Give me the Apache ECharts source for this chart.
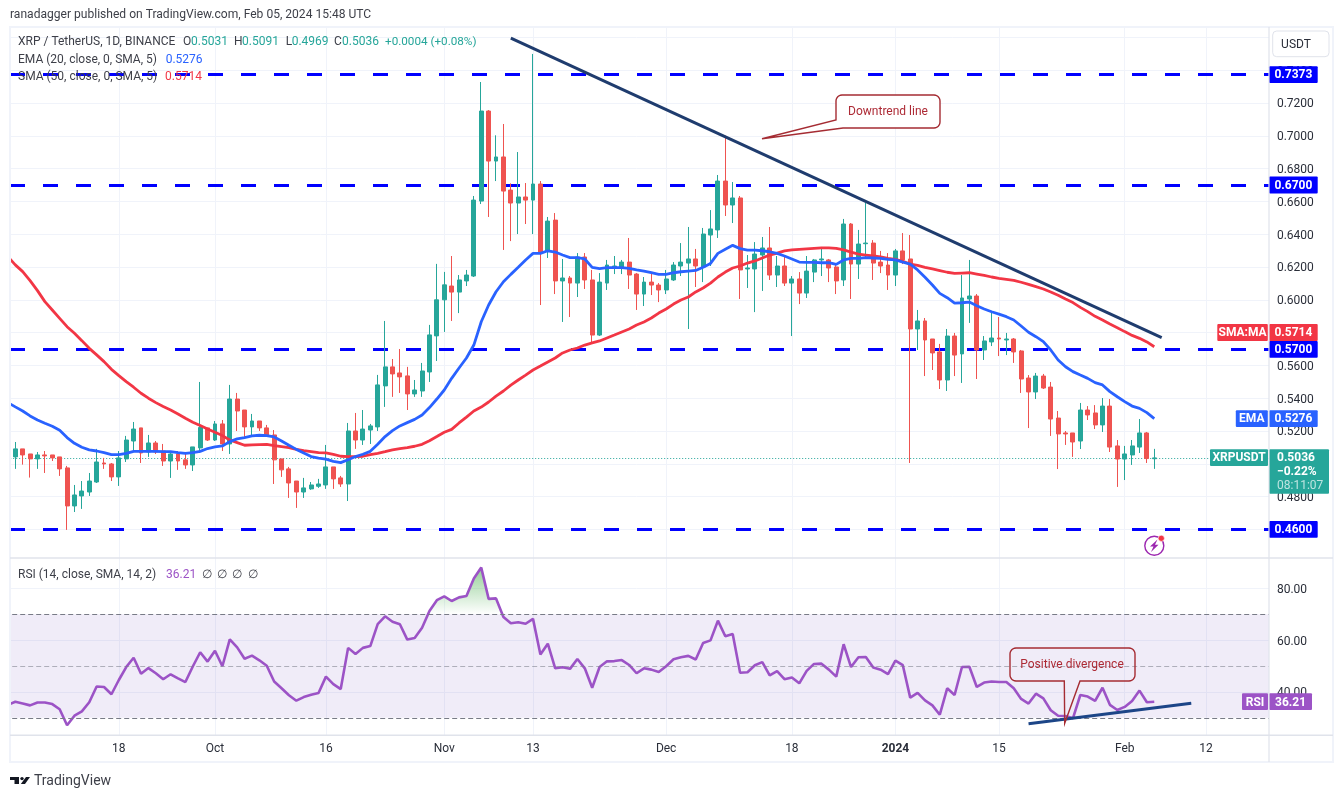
<!DOCTYPE html>
<html><head><meta charset="utf-8">
<style>html,body{margin:0;padding:0;background:#fff}#c{width:1343px;height:798px}</style>
<script src="https://cdn.jsdelivr.net/npm/echarts@6/dist/echarts.min.js"></script>
</head><body><div id="c"></div>
<script>
// Daily candles from 2023-09-04, each row is [open, high, low, close]
const ohlc = [
[.5042,.5133,.4969,.5091],[.5091,.5091,.4995,.5054],[.5060,.5060,.4916,.5030],[.5030,.5072,.4969,.5054],[.5054,.5078,.4944,.5048],
[.5054,.5054,.5017,.5036],[.5042,.5042,.4926,.4969],[.4975,.4987,.4597,.4743],[.4743,.4871,.4706,.4810],[.4804,.4895,.4725,.4834],
[.4828,.4944,.4804,.4895],[.4889,.5091,.4883,.5011],[.5005,.5036,.4969,.4999],[.4999,.5005,.4895,.4920],[.4920,.5078,.4865,.5036],
[.5030,.5170,.5011,.5145],[.5139,.5255,.5078,.5212],[.5219,.5219,.5005,.5066],[.5072,.5176,.5042,.5127],[.5127,.5139,.5060,.5072],
[.5078,.5121,.4987,.5017],[.5017,.5078,.4914,.5060],[.5060,.5078,.4963,.5017],[.5024,.5072,.4969,.4993],[.4993,.5103,.4956,.5103],
[.5097,.5499,.5066,.5221],[.5219,.5219,.5139,.5145],[.5145,.5261,.5139,.5243],[.5243,.5267,.5078,.5121],[.5121,.5481,.5060,.5395],
[.5395,.5432,.5200,.5322],[.5328,.5328,.5158,.5225],[.5225,.5304,.5170,.5261],[.5261,.5261,.5200,.5219],[.5219,.5237,.5164,.5170],
[.5176,.5206,.4877,.5024],[.5030,.5030,.4920,.4963],[.4969,.4981,.4792,.4883],[.4895,.4895,.4731,.4828],[.4828,.4914,.4792,.4853],
[.4847,.4889,.4841,.4871],[.4863,.4908,.4853,.4877],[.4871,.5115,.4847,.4981],[.4981,.4981,.4847,.4908],[.4914,.4926,.4859,.4877],
[.4877,.5249,.4773,.5200],[.5200,.5310,.5091,.5145],[.5145,.5328,.5115,.5212],[.5206,.5243,.5121,.5231],[.5225,.5542,.5200,.5481],
[.5475,.5871,.5347,.5591],[.5591,.5639,.5408,.5548],[.5554,.5700,.5432,.5530],[.5536,.5591,.5328,.5426],[.5426,.5511,.5408,.5450],
[.5444,.5615,.5408,.5566],[.5560,.5847,.5499,.5786],[.5780,.6219,.5627,.6000],[.6000,.6170,.5804,.6091],[.6084,.6267,.5871,.6047],
[.6047,.6151,.5919,.6121],[.6115,.6182,.6084,.6151],[.6145,.6633,.6139,.6608],[.6602,.7328,.6584,.7151],[.7151,.7157,.6505,.6846],
[.6846,.7003,.6724,.6871],[.6871,.7072,.6304,.6663],[.6669,.6710,.6358,.6590],[.6590,.6901,.6401,.6627],[.6627,.6712,.6462,.6608],
[.6608,.7499,.6401,.6706],[.6706,.6724,.5968,.6291],[.6297,.6505,.6255,.6480],[.6486,.6529,.6035,.6115],[.6115,.6249,.5865,.6133],
[.6133,.6145,.5895,.6102],[.6102,.6285,.6017,.6261],[.6261,.6285,.6066,.6121],[.6121,.6182,.5736,.5785],[.5785,.6163,.5779,.6108],
[.6102,.6243,.6060,.6212],[.6194,.6267,.6157,.6206],[.6200,.6243,.6157,.6230],[.6230,.6377,.6066,.6151],[.6157,.6163,.5938,.6035],
[.6035,.6139,.5962,.6108],[.6108,.6169,.6029,.6090],[.6090,.6102,.5986,.6060],[.6060,.6182,.6035,.6127],[.6121,.6230,.6115,.6212],
[.6206,.6346,.6145,.6230],[.6224,.6444,.5822,.6249],[.6249,.6310,.6078,.6206],[.6200,.6438,.6108,.6401],[.6395,.6547,.6206,.6432],
[.6426,.6761,.6377,.6724],[.6724,.7001,.6511,.6578],[.6578,.6718,.6468,.6621],[.6621,.6633,.6005,.6182],[.6188,.6273,.6072,.6194],
[.6188,.6352,.5925,.6279],[.6273,.6383,.6054,.6316],[.6316,.6444,.6121,.6151],[.6151,.6267,.6078,.6206],[.6206,.6261,.6084,.6102],
[.6102,.6145,.5779,.6127],[.6127,.6169,.5974,.6041],[.6041,.6267,.6011,.6175],[.6169,.6249,.6108,.6243],[.6243,.6322,.6145,.6249],
[.6243,.6249,.6108,.6194],[.6200,.6224,.6035,.6115],[.6121,.6493,.6084,.6462],[.6462,.6468,.6005,.6218],[.6218,.6426,.6127,.6340],
[.6342,.6590,.6255,.6346],[.6346,.6364,.6121,.6224],[.6230,.6298,.6163,.6206],[.6212,.6285,.6060,.6151],[.6151,.6310,.6084,.6298],
[.6298,.6407,.6218,.6243],[.6249,.6395,.5005,.5822],[.5822,.5938,.5694,.5871],[.5871,.5889,.5535,.5755],[.5761,.5761,.5572,.5676],
[.5682,.5731,.5456,.5511],[.5511,.5822,.5444,.5779],[.5779,.5798,.5535,.5663],[.5670,.6151,.5493,.6011],[.6005,.6243,.5859,.6023],
[.6023,.6035,.5517,.5694],[.5694,.5779,.5633,.5749],[.5743,.5930,.5718,.5767],[.5767,.5895,.5657,.5761],[.5755,.5798,.5663,.5761],
[.5761,.5767,.5615,.5682],[.5688,.5694,.5432,.5517],[.5523,.5541,.5218,.5438],[.5438,.5554,.5395,.5535],[.5535,.5548,.5456,.5462],
[.5468,.5499,.5170,.5273],[.5279,.5322,.4968,.5182],[.5188,.5200,.5115,.5182],[.5188,.5188,.5042,.5133],[.5139,.5371,.5090,.5328],
[.5328,.5352,.5267,.5298],[.5310,.5358,.5212,.5237],[.5237,.5401,.5194,.5352],[.5352,.5395,.5072,.5102],[.5109,.5145,.4859,.5029],
[.5029,.5109,.4901,.5060],[.5054,.5145,.4993,.5109],[.5102,.5273,.5066,.5188],[.5188,.5194,.5005,.5032],[.5031,.5091,.4969,.5036]
];
// Lines start one day before the first candle, as in the picture, where they enter from the left edge
const ema20 = [.5373,.5347,.5322,.5292,.5267,.5247,.5229,.5204,.5160,.5125,.5101,.5085,.5078,.5068,.5056,.5056,.5064,.5076,.5076,.5076,.5076,.5074,.5074,.5068,.5064,.5068,.5076,.5093,.5103,.5109,.5135,.5152,.5160,.5170,.5174,.5172,.5164,.5139,.5113,.5088,.5066,.5044,.5034,.5028,.5015,.5007,.5025,.5044,.5058,.5076,.5119,.5166,.5202,.5231,.5251,.5271,.5298,.5343,.5395,.5450,.5521,.5584,.5645,.5724,.5866,.5968,.6049,.6110,.6155,.6198,.6243,.6283,.6283,.6299,.6291,.6273,.6257,.6257,.6249,.6198,.6190,.6196,.6196,.6196,.6192,.6182,.6175,.6165,.6155,.6155,.6165,.6171,.6175,.6179,.6198,.6222,.6283,.6308,.6332,.6312,.6303,.6303,.6299,.6293,.6283,.6267,.6249,.6230,.6228,.6228,.6226,.6226,.6216,.6243,.6253,.6253,.6257,.6255,.6253,.6247,.6243,.6230,.6218,.6182,.6137,.6090,.6039,.6013,.5980,.5982,.5986,.5964,.5944,.5927,.5913,.5897,.5877,.5840,.5802,.5775,.5745,.5694,.5633,.5592,.5562,.5541,.5521,.5495,.5481,.5440,.5409,.5379,.5352,.5338,.5312,.5276];
const sma50 = [.6263,.6213,.6172,.6117,.6056,.5989,.5938,.5887,.5836,.5796,.5751,.5704,.5664,.5623,.5576,.5538,.5501,.5467,.5430,.5400,.5373,.5349,.5328,.5304,.5278,.5253,.5233,.5212,.5192,.5172,.5145,.5129,.5113,.5115,.5117,.5119,.5111,.5105,.5099,.5088,.5080,.5074,.5068,.5066,.5058,.5046,.5044,.5044,.5046,.5056,.5064,.5074,.5085,.5093,.5099,.5107,.5119,.5141,.5166,.5192,.5210,.5249,.5285,.5322,.5346,.5377,.5413,.5444,.5480,.5511,.5541,.5572,.5596,.5621,.5645,.5676,.5694,.5706,.5724,.5737,.5749,.5767,.5785,.5804,.5822,.5846,.5865,.5889,.5919,.5944,.5974,.5999,.6017,.6048,.6072,.6102,.6139,.6169,.6194,.6206,.6224,.6237,.6255,.6273,.6285,.6298,.6304,.6307,.6310,.6313,.6316,.6316,.6313,.6304,.6291,.6279,.6273,.6267,.6261,.6253,.6247,.6235,.6218,.6210,.6198,.6188,.6178,.6168,.6161,.6163,.6165,.6157,.6149,.6139,.6131,.6125,.6119,.6107,.6094,.6080,.6066,.6048,.6028,.6005,.5983,.5954,.5928,.5899,.5877,.5852,.5830,.5806,.5783,.5765,.5743,.5714];
const rsi14 = [35.0,36.2,35.5,34.8,35.9,35.9,35.3,33.3,27.1,30.8,32.5,36.0,42.1,41.9,39.1,44.6,49.6,53.2,47.0,49.2,47.2,44.9,46.8,45.2,43.8,49.8,55.3,51.7,55.9,49.9,60.3,57.2,52.8,54.0,52.2,50.1,44.0,41.4,38.7,36.6,38.0,38.9,39.6,45.9,43.0,41.1,57.0,54.6,57.0,57.7,66.2,69.2,67.1,66.1,60.2,60.8,64.8,71.2,75.4,76.9,75.1,76.5,77.0,83.8,88.0,75.9,76.1,68.9,66.5,66.9,66.3,68.2,54.4,58.6,49.1,49.5,48.9,52.7,49.1,41.6,49.6,51.8,51.9,52.3,50.4,47.2,49.1,48.6,47.7,49.9,52.6,53.4,53.9,52.5,58.9,59.9,67.5,61.5,62.4,47.4,47.6,50.3,51.5,46.4,48.0,44.9,45.6,43.3,48.1,50.8,50.9,48.6,45.9,58.4,49.6,53.4,53.5,49.4,48.6,46.9,52.1,50.3,37.8,39.6,36.7,34.8,31.2,41.4,38.8,49.6,49.7,41.9,43.6,44.0,43.8,43.8,41.4,37.3,35.5,39.3,37.5,32.9,30.8,30.7,29.8,38.8,38.2,36.5,41.6,35.0,33.0,34.2,36.5,40.5,36.0,36.2];
const levels = [0.7373, 0.67, 0.57, 0.46];
const downtrend = [[68, .7596], [156, .5769]];   // [day index, price]
const rsiTrend = [[138, 27.7], [160, 35.6]];     // [day index, RSI]
const tickLabels = {15:'18', 28:'Oct', 43:'16', 59:'Nov', 71:'13', 89:'Dec', 106:'18', 120:'2024', 134:'15', 151:'Feb', 162:'12'};
const dayCount = 171;
const days = Array.from({length: dayCount}, (_, i) => String(i));

const UP = '#26a69a', DOWN = '#ef5350', EMA = '#2962ff', SMA = '#f23645', RSI = '#9c53c6', LEVEL = '#0000ff', NAVY = '#1f3c6e';
const GRIDC = '#f0f3fa', AXISC = '#e0e3eb', TXT = '#2a2e39';
const FONT = 'Roboto, sans-serif';
const W = 7.396, GL = 4.2, GW = W * dayCount;

const chart = echarts.init(document.getElementById('c'), null, {renderer: 'canvas'});
const candleData = [['-', '-', '-', '-']].concat(ohlc.map(r => [r[0], r[3], r[2], r[1]]));
const ovb = rsi14.map(v => Math.max(v, 70));
const tickRich = {a: {padding: [3, 0, 0, 0], fontFamily: FONT, fontSize: 12, color: TXT}};

chart.setOption({
  animation: false,
  backgroundColor: '#fff',
  grid: [
    {left: GL, width: GW, top: 27, height: 535.2, containLabel: false},
    {left: GL, width: GW, top: 558, height: 185.7, containLabel: false},
    {left: GL + W / 2, width: W * (dayCount - 1), top: 27, height: 708, containLabel: false}
  ],
  xAxis: [
    {type: 'category', gridIndex: 0, data: days, axisLine: {show: false}, axisTick: {show: false}, axisLabel: {show: false}, splitLine: {show: false}},
    {type: 'category', gridIndex: 1, data: days, axisLine: {show: false}, axisTick: {show: false}, axisLabel: {show: false}, splitLine: {show: false}},
    {type: 'category', gridIndex: 2, data: days, boundaryGap: false, axisLine: {show: false}, axisTick: {show: false},
      axisLabel: {margin: 8, fontFamily: FONT, fontSize: 12, color: TXT, hideOverlap: false,
        interval: (i) => tickLabels[i] !== undefined,
        formatter: (v) => tickLabels[v] === '2024' ? '{b|2024}' : (tickLabels[v] || ''),
        rich: {b: {fontWeight: 'bold', fontFamily: FONT, fontSize: 12, color: TXT}}},
      splitLine: {show: true, interval: (i) => tickLabels[i] !== undefined, lineStyle: {color: GRIDC, width: 1}}}
  ],
  yAxis: [
    {type: 'value', gridIndex: 0, position: 'right', min: 0.44, max: 0.76634, interval: 0.02, axisLine: {show: false}, axisTick: {show: false},
      axisLabel: {margin: 8, showMinLabel: false, showMaxLabel: false, rich: tickRich, formatter: v => `{a|${v.toFixed(4)}}`},
      splitLine: {show: true, showMinLine: false, showMaxLine: false, lineStyle: {color: GRIDC, width: 1}}},
    {type: 'value', gridIndex: 1, position: 'right', min: 20, max: 91.7, interval: 20, axisLine: {show: false}, axisTick: {show: false},
      axisLabel: {margin: 8, showMinLabel: false, showMaxLabel: false, rich: tickRich, formatter: v => `{a|${v.toFixed(2)}}`},
      splitLine: {show: true, showMinLine: false, showMaxLine: false, lineStyle: {color: GRIDC, width: 1}}},
    {type: 'value', gridIndex: 2, show: false, min: 0, max: 1}
  ],
  series: [
    {type: 'line', xAxisIndex: 2, yAxisIndex: 2, data: [], silent: true},
    {type: 'candlestick', xAxisIndex: 0, yAxisIndex: 0, data: candleData, barWidth: 4.4, z: 3,
      itemStyle: {color: UP, color0: DOWN, borderColor: UP, borderColor0: DOWN, borderWidth: 1},
      markLine: {silent: true, symbol: 'none', precision: 4, label: {show: false}, z: 2, animation: false,
        data: levels.map(v => ({yAxis: v, lineStyle: {color: LEVEL, width: 3, type: [15, 18], dashOffset: 27.2}}))
          .concat([{yAxis: 0.5036, lineStyle: {color: UP, width: 1, type: [1, 2]}}])}},
    {type: 'line', xAxisIndex: 0, yAxisIndex: 0, data: sma50, symbol: 'none', z: 4, lineStyle: {color: SMA, width: 2.8}},
    {type: 'line', xAxisIndex: 0, yAxisIndex: 0, data: ema20, symbol: 'none', z: 4, lineStyle: {color: EMA, width: 2.8}},
    {type: 'line', xAxisIndex: 0, yAxisIndex: 0, data: downtrend, symbol: 'none', z: 5, lineStyle: {color: NAVY, width: 3}},
    {type: 'line', xAxisIndex: 1, yAxisIndex: 1, data: ovb, symbol: 'none', z: 2, lineStyle: {width: 0, opacity: 0},
      areaStyle: {origin: 70, opacity: 1, color: new echarts.graphic.LinearGradient(0, 0, 0, 1, [{offset: 0, color: 'rgba(76,175,80,.6)'}, {offset: 1, color: 'rgba(76,175,80,0)'}])}},
    {type: 'line', xAxisIndex: 1, yAxisIndex: 1, data: rsi14, symbol: 'none', z: 4, lineStyle: {color: RSI, width: 2.6},
      markArea: {silent: true, itemStyle: {color: 'rgba(126,87,194,.115)'}, data: [[{yAxis: 70}, {yAxis: 30}]]},
      markLine: {silent: true, symbol: 'none', precision: 2, label: {show: false}, animation: false,
        data: [{yAxis: 70, lineStyle: {color: '#787b86', width: 1, type: [5, 3]}},
               {yAxis: 50, lineStyle: {color: 'rgba(120,123,134,.55)', width: 1, type: [5, 3]}},
               {yAxis: 30, lineStyle: {color: '#787b86', width: 1, type: [5, 3]}}]}},
    {type: 'line', xAxisIndex: 1, yAxisIndex: 1, data: rsiTrend, symbol: 'none', z: 5, lineStyle: {color: '#1c4587', width: 3}}
  ]
});

// Overlay: frame, price tags and text, placed through the axes where they mark a value
const py = v => chart.convertToPixel({yAxisIndex: 0}, v);
const ry = v => chart.convertToPixel({yAxisIndex: 1}, v);
const Z = 50;
const rect = (x, y, w, h, fill, r, extra) => ({type: 'rect', z: Z, silent: true, shape: {x, y, width: w, height: h, r: r || 0}, style: Object.assign({fill}, extra || {})});
const text = (x, y, t, fill, o) => ({type: 'text', z: Z + 2, silent: true, x, y, style: Object.assign({text: t, fill, font: `12px ${FONT}`, textVerticalAlign: 'middle', textAlign: 'left'}, o || {})});
const hline = (x1, x2, y, c, w) => ({type: 'line', z: Z + 1, silent: true, shape: {x1, y1: y, x2, y2: y}, style: {stroke: c, lineWidth: w || 1}});
const vline = (x, y1, y2, c, w) => ({type: 'line', z: Z + 1, silent: true, shape: {x1: x, y1, x2: x, y2}, style: {stroke: c, lineWidth: w || 1}});
// Rounded speech bubble outline; tail.corner replaces the bottom-left corner when the tail leaves there
const bubble = (x0, y0, x1, y1, r, tail, fill) => {
  const pts = [];
  const arc = (cx, cy, a0) => { for (let k = 0; k <= 6; k++) { const a = a0 + k / 6 * Math.PI / 2; pts.push([cx + r * Math.cos(a), cy + r * Math.sin(a)]); } };
  arc(x1 - r, y0 + r, -Math.PI / 2);
  arc(x1 - r, y1 - r, 0);
  if (tail.bottom) pts.push(...tail.bottom);
  if (tail.corner) pts.push(...tail.corner); else arc(x0 + r, y1 - r, Math.PI / 2);
  arc(x0 + r, y0 + r, Math.PI);
  return {type: 'polygon', z: Z, silent: true, shape: {points: pts}, style: {fill, stroke: '#a52c33', lineWidth: 1.4}};
};
const AX = 1269, BOX = 48.7;
const tag = (v, y, fill, name, nameW) => {
  const out = [rect(AX, y - 8.4, BOX, 16.8, fill, 1), text(AX + BOX / 2, y + 0.8, v, '#fff', {font: `bold 12px ${FONT}`, textAlign: 'center'})];
  if (name) out.push(rect(AX - 1.2 - nameW, y - 8.4, nameW, 16.8, fill, 1), text(AX - 1.2 - nameW / 2, y + 0.8, name, '#fff', {font: `bold 12px ${FONT}`, textAlign: 'center'}));
  return out;
};
const yClose = py(0.5036);
const D = '#3d3f48';
const els = [
  rect(0, 0, 1343, 26, '#fff'),
  rect(0, 26, 10, 712, '#fff'),
  hline(9, 1334, 27, '#f0f3fa', 2), hline(9, 1334, 762, '#f0f3fa', 2), vline(10, 26, 763, '#f0f3fa', 2), vline(1333, 26, 763, '#f0f3fa', 2),
  hline(10, 1333, 558, AXISC, 1.4), hline(10, 1333, 735.3, AXISC, 1.4), vline(AX, 27, 762, AXISC, 1.2),
  text(10, 15.3, 'ranadagger published on TradingView.com, Feb 05, 2024 15:48 UTC', D, {font: `12.07px ${FONT}`}),
  text(18, 42.3, 'XRP / TetherUS, 1D, BINANCE', D),
  text(183, 42.3, 'O', D), text(191, 42.3, '0.5031', UP),
  text(234, 42.3, 'H', D), text(242, 42.3, '0.5091', UP),
  text(285.7, 42.3, 'L', D), text(291.7, 42.3, '0.4969', UP),
  text(334, 42.3, 'C', D), text(342, 42.3, '0.5036', UP),
  text(385, 42.3, '+0.0004 (+0.08%)', UP, {font: `11.7px ${FONT}`}),
  text(18, 59.6, 'EMA (20, close, 0, SMA, 5)', D), text(165.7, 59.6, '0.5276', EMA),
  text(18, 76.6, 'SMA (50, close, 0, SMA, 5)', D), text(165, 76.6, '0.5714', SMA),
  text(18, 574.6, 'RSI (14, close, SMA, 14, 2)', D), text(166, 574.6, '36.21', RSI),
  text(206.7, 574.6, '∅', D, {textAlign: 'center'}), text(222, 574.6, '∅', D, {textAlign: 'center'}),
  text(237.3, 574.6, '∅', D, {textAlign: 'center'}), text(252.7, 574.6, '∅', D, {textAlign: 'center'}),
  // USDT button
  rect(1272.7, 31, 56.3, 25.7, '#fff', 4, {stroke: AXISC, lineWidth: 1}),
  text(1296, 44.6, 'USDT', TXT, {textAlign: 'center'}),
  // price tags
  ...tag('0.7373', py(0.7373), LEVEL),
  ...tag('0.6700', py(0.67), LEVEL),
  ...tag('0.5714', 332.5, SMA, 'SMA:MA', 50.5),
  ...tag('0.5700', py(0.57) + 0.4, LEVEL),
  ...tag('0.5276', py(0.5276), EMA, 'EMA', 32),
  ...tag('0.4600', py(0.46), LEVEL),
  rect(1210, yClose - 8.6, 58, 16.8, UP, 1), text(1239, yClose + 0.6, 'XRPUSDT', '#fff', {font: `bold 12px ${FONT}`, textAlign: 'center'}),
  rect(AX, yClose - 8.6, 60, 44.4, UP, 1),
  text(1277, yClose + 0.6, '0.5036', '#fff', {font: `bold 12px ${FONT}`}),
  text(1277, yClose + 14.3, '−0.22%', '#fff', {font: `bold 12px ${FONT}`}),
  text(1277, yClose + 27.8, '08:11:07', 'rgba(255,255,255,.7)'),
  rect(1242, ry(36.21) - 8.4, 26, 16.8, RSI, 1), text(1255, ry(36.21) + 0.8, 'RSI', '#fff', {font: `bold 12px ${FONT}`, textAlign: 'center'}),
  rect(AX, ry(36.21) - 8.4, 43, 16.8, RSI, 1), text(AX + 21.5, ry(36.21) + 0.8, '36.21', '#fff', {font: `bold 12px ${FONT}`, textAlign: 'center'}),
  // callouts
  bubble(836, 95, 940, 128, 6, {bottom: [[843, 128], [762, 138.7]], corner: [[836, 120]]}, '#fff'),
  text(888, 112, 'Downtrend line', '#ad2a35', {textAlign: 'center'}),
  bubble(1010, 648, 1135, 681, 6, {bottom: [[1080, 681], [1064.7, 723.3], [1064.3, 681]]}, 'rgba(0,0,0,0)'),
  text(1072, 664.6, 'Positive divergence', '#ad2a35', {textAlign: 'center'}),
  // news icon
  {type: 'circle', z: Z, silent: true, shape: {cx: 1154.3, cy: 545.7, r: 9.5}, style: {fill: '#fff', stroke: '#9c27b0', lineWidth: 1.4}},
  {type: 'polygon', z: Z + 1, silent: true, shape: {points: [[1157.5, 539.5], [1150, 546.5], [1153.5, 546.5], [1151, 552], [1158.5, 544.8], [1155, 544.8]]}, style: {fill: '#9c27b0'}},
  {type: 'circle', z: Z + 2, silent: true, shape: {cx: 1161.3, cy: 538.3, r: 3.1}, style: {fill: '#f23645', stroke: '#fff', lineWidth: 0.6}},
  // TradingView logo
  {type: 'polygon', z: Z, silent: true, shape: {points: [[10, 777], [19, 777], [19, 784], [14.5, 784], [14.5, 780], [10, 780]]}, style: {fill: '#131722'}},
  {type: 'circle', z: Z, silent: true, shape: {cx: 22, cy: 778.6, r: 1.7}, style: {fill: '#131722'}},
  {type: 'polygon', z: Z, silent: true, shape: {points: [[26, 777], [30, 777], [25, 784], [20.8, 784]]}, style: {fill: '#131722'}},
  text(34, 781, 'TradingView', D, {font: `14px ${FONT}`})
];
chart.setOption({graphic: {elements: els}});
</script></body></html>
